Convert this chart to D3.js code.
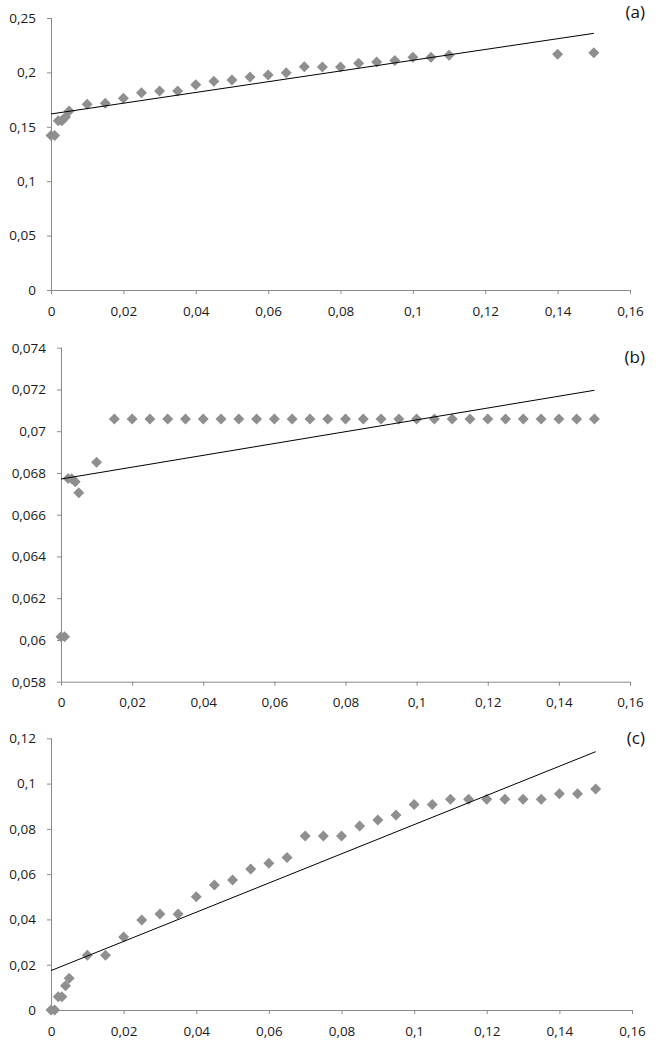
<!DOCTYPE html>
<html>
<head>
<meta charset="utf-8">
<script src="https://cdn.jsdelivr.net/npm/d3@7"></script>
<style>
html,body{margin:0;padding:0;background:#fff;}
svg{display:block;}
.tick text{font-family:"Open Sans",sans-serif;font-size:13.5px;fill:#1a1a1a;}
</style>
</head>
<body>
<svg id="chart" width="663" height="1049"></svg>
<script>
// ---- Data ----
const xTicks = [0, 0.02, 0.04, 0.06, 0.08, 0.1, 0.12, 0.14, 0.16];

const xA = [0, 0.001, 0.002, 0.003, 0.004, 0.005, 0.01, 0.015, 0.02, 0.025, 0.03, 0.035, 0.04, 0.045, 0.05, 0.055, 0.06, 0.065, 0.07, 0.075, 0.08, 0.085, 0.09, 0.095, 0.1, 0.105, 0.11, 0.14, 0.15];
const yA = [0.142, 0.142, 0.1555, 0.1555, 0.159, 0.1645, 0.1707, 0.1716, 0.1762, 0.1814, 0.1829, 0.183, 0.1887, 0.1918, 0.193, 0.1958, 0.1976, 0.1997, 0.2052, 0.205, 0.205, 0.2083, 0.2096, 0.211, 0.2139, 0.214, 0.2157, 0.2166, 0.218];
const trendAx = [0, 0.15];
const trendAy = [0.1618, 0.2359];
const yTicksA = [0, 0.05, 0.1, 0.15, 0.2, 0.25];

const xB = [0, 0.001, 0.002, 0.003, 0.004, 0.005, 0.01, 0.015, 0.02, 0.025, 0.03, 0.035, 0.04, 0.045, 0.05, 0.055, 0.06, 0.065, 0.07, 0.075, 0.08, 0.085, 0.09, 0.095, 0.1, 0.105, 0.11, 0.115, 0.12, 0.125, 0.13, 0.135, 0.14, 0.145, 0.15];
const yB = [0.06015, 0.06015, 0.06774, 0.06772, 0.06758, 0.06705, 0.06851, 0.07058, 0.07058, 0.07058, 0.07058, 0.07058, 0.07058, 0.07058, 0.07058, 0.07058, 0.07058, 0.07058, 0.07058, 0.07058, 0.07058, 0.07058, 0.07058, 0.07058, 0.07058, 0.07058, 0.07058, 0.07058, 0.07058, 0.07058, 0.07058, 0.07058, 0.07058, 0.07058, 0.07058];
const trendBx = [0, 0.15];
const trendBy = [0.06771, 0.07196];
const yTicksB = [0.058, 0.06, 0.062, 0.064, 0.066, 0.068, 0.07, 0.072, 0.074];

const xC = [0, 0.001, 0.002, 0.003, 0.004, 0.005, 0.01, 0.015, 0.02, 0.025, 0.03, 0.035, 0.04, 0.045, 0.05, 0.055, 0.06, 0.065, 0.07, 0.075, 0.08, 0.085, 0.09, 0.095, 0.1, 0.105, 0.11, 0.115, 0.12, 0.125, 0.13, 0.135, 0.14, 0.145, 0.15];
const yC = [0, 0, 0.0059, 0.0059, 0.0107, 0.014, 0.0242, 0.0242, 0.0322, 0.0398, 0.0424, 0.0424, 0.05, 0.0552, 0.0574, 0.0623, 0.0648, 0.0673, 0.0769, 0.0769, 0.0769, 0.0813, 0.0839, 0.0861, 0.0908, 0.0908, 0.0931, 0.0931, 0.0931, 0.0931, 0.0931, 0.0931, 0.0955, 0.0955, 0.0976];
const trendCx = [0, 0.15];
const trendCy = [0.0174, 0.1141];
const yTicksC = [0, 0.02, 0.04, 0.06, 0.08, 0.1, 0.12];

const panelLabels = ["(a)", "(b)", "(c)"];

// ---- Drawing ----
const svg = d3.select("#chart");
const fmt = v => String(+v.toFixed(4)).replace(".", ",");

const panels = [
  {xs: xA, ys: yA, tx: trendAx, ty: trendAy, yTicks: yTicksA, label: panelLabels[0],
   left: 51, right: 630, top: 18, bottom: 290, labelY: 18},
  {xs: xB, ys: yB, tx: trendBx, ty: trendBy, yTicks: yTicksB, label: panelLabels[1],
   left: 61, right: 630, top: 347.7, bottom: 681.7, labelY: 363},
  {xs: xC, ys: yC, tx: trendCx, ty: trendCy, yTicks: yTicksC, label: panelLabels[2],
   left: 51, right: 632, top: 738.3, bottom: 1010, labelY: 744}
];

const axisColor = "#8a8a8a";
const markerColor = "#8f8f8f";

panels.forEach(p => {
  const x = d3.scaleLinear().domain([0, 0.16]).range([p.left, p.right]);
  const yDom = d3.extent(p.yTicks);
  const y = d3.scaleLinear().domain(yDom).range([p.bottom, p.top]);
  const g = svg.append("g");

  // y axis
  const ya = g.append("g").attr("transform", `translate(${p.left},0)`)
    .call(d3.axisLeft(y).tickValues(p.yTicks).tickFormat(fmt).tickSize(4).tickPadding(11));
  // x axis
  const xa = g.append("g").attr("transform", `translate(0,${p.bottom})`)
    .call(d3.axisBottom(x).tickValues(xTicks).tickFormat(fmt).tickSize(4).tickPadding(12));
  [ya, xa].forEach(a => {
    a.select(".domain").attr("stroke", axisColor).attr("stroke-width", 1);
    a.selectAll(".tick line").attr("stroke", axisColor);
  });
  ya.select(".domain").attr("d", `M0.5,${y(yDom[1])}V${y(yDom[0])}`);
  xa.select(".domain").attr("d", `M${p.left},0.5H${p.right}`);

  // markers (diamonds)
  const r = 5.5;
  g.append("g").selectAll("path").data(p.xs.map((v, i) => [v, p.ys[i]]))
    .join("path")
    .attr("d", d => {
      const cx = x(d[0]), cy = y(d[1]);
      return `M${cx},${cy - r}L${cx + r},${cy}L${cx},${cy + r}L${cx - r},${cy}Z`;
    })
    .attr("fill", markerColor);

  // trend line
  g.append("path")
    .datum(p.tx.map((v, i) => [v, p.ty[i]]))
    .attr("d", d3.line().x(d => x(d[0])).y(d => y(d[1])))
    .attr("fill", "none").attr("stroke", "#000").attr("stroke-width", 1);

  // panel label
  g.append("text").attr("x", 645).attr("y", p.labelY)
    .attr("text-anchor", "end")
    .attr("font-family", "'Open Sans',sans-serif").attr("font-size", 17).attr("fill", "#111")
    .text(p.label);
});
</script>
</body>
</html>
